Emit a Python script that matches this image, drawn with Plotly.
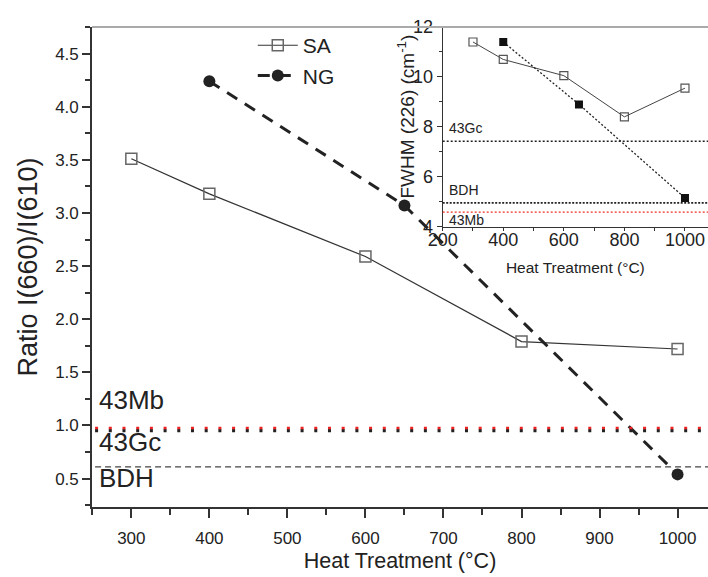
import plotly.graph_objects as go

# ---------------- data ----------------
# main plot: Ratio I(660)/I(610) vs heat treatment
sa_x = [300, 400, 600, 800, 1000]
sa_y = [3.51, 3.18, 2.59, 1.79, 1.72]
ng_x = [400, 650, 1000]
ng_y = [4.24, 3.07, 0.54]

# reference levels (main)
ref_names = ["43Mb", "43Gc", "BDH"]
ref_main = [0.975, 0.95, 0.61]
ref_main_label_y = [1.24, 0.845, 0.505]

# inset: FWHM (226) vs heat treatment
in_sa_x = [300, 400, 600, 800, 1000]
in_sa_y = [11.4, 10.7, 10.05, 8.4, 9.55]
in_ng_x = [400, 650, 1000]
in_ng_y = [11.4, 8.9, 5.15]

# reference levels (inset): 43Gc, BDH, 43Mb
in_ref_names = ["43Gc", "BDH", "43Mb"]
in_ref = [7.42, 4.95, 4.58]
in_ref_label_y = [7.95, 5.47, 4.27]

FONT = "Liberation Sans, Arial, sans-serif"
TXT = "#222222"

fig = go.Figure()

# main traces
fig.add_trace(go.Scatter(
    x=sa_x, y=sa_y, name="SA", mode="lines+markers",
    line=dict(color="#333333", width=1.2),
    marker=dict(symbol="square-open", size=11, color="#666666", line=dict(width=1.5)),
))
fig.add_trace(go.Scatter(
    x=ng_x, y=ng_y, name="NG", mode="lines+markers",
    line=dict(color="#222222", width=3, dash="12px,9px"),
    marker=dict(symbol="circle", size=12, color="#222222"),
))

# inset traces
fig.add_trace(go.Scatter(
    x=in_sa_x, y=in_sa_y, xaxis="x2", yaxis="y2", mode="lines+markers", showlegend=False,
    line=dict(color="#444444", width=1),
    marker=dict(symbol="square-open", size=8, color="#555555", line=dict(width=1.2)),
))
fig.add_trace(go.Scatter(
    x=in_ng_x, y=in_ng_y, xaxis="x2", yaxis="y2", mode="lines+markers", showlegend=False,
    line=dict(color="#222222", width=1.3, dash="2px,2px"),
    marker=dict(symbol="square", size=8, color="#111111"),
))

shapes = []
annotations = []

# main reference lines
main_styles = [
    dict(color="#ee2222", width=3, dash="3px,10.7px"),
    dict(color="#222222", width=3, dash="3px,10.7px"),
    dict(color="#444444", width=1.3, dash="6px,4px"),
]
for name, yv, ly, st in zip(ref_names, ref_main, ref_main_label_y, main_styles):
    shapes.append(dict(type="line", xref="x domain", yref="y", x0=0.005, x1=1, y0=yv, y1=yv,
                       line=st, layer="above"))
    annotations.append(dict(text=name, xref="x domain", yref="y", x=0.008, y=ly,
                            xanchor="left", yanchor="middle", showarrow=False,
                            font=dict(size=26, color=TXT, family=FONT)))

# inset reference lines
in_styles = [
    dict(color="#222222", width=1.5, dash="2px,2px"),
    dict(color="#222222", width=1.8, dash="2px,1.5px"),
    dict(color="#ee3322", width=1.2, dash="2px,2px"),
]
for name, yv, ly, st in zip(in_ref_names, in_ref, in_ref_label_y, in_styles):
    shapes.append(dict(type="line", xref="x2 domain", yref="y2", x0=0, x1=1, y0=yv, y1=yv,
                       line=st))
    annotations.append(dict(text=name, xref="x2 domain", yref="y2", x=0.015, y=ly,
                            xanchor="left", yanchor="middle", showarrow=False,
                            font=dict(size=14, color=TXT, family=FONT)))

# inset y-axis title (placed as rotated annotation)
annotations.append(dict(text="FWHM (226) (cm<sup>-1</sup>)", xref="paper", yref="paper",
                        x=0.5097, y=0.8135, xanchor="center", yanchor="middle",
                        textangle=-90, showarrow=False,
                        font=dict(size=19, color=TXT, family=FONT)))

# top gray border
shapes.append(dict(type="line", xref="paper", yref="paper", x0=0, x1=1, y0=1, y1=1,
                   line=dict(color="#aaaaaa", width=2)))

axis_common = dict(showgrid=False, zeroline=False, showline=True, linecolor="#333333",
                   ticks="outside", tickcolor="#333333", tickfont=dict(family=FONT, color=TXT))

fig.update_layout(
    width=708, height=577,
    margin=dict(l=92, r=0, t=27, b=70),
    paper_bgcolor="white", plot_bgcolor="rgba(0,0,0,0)",
    font=dict(family=FONT, color=TXT),
    showlegend=True,
    legend=dict(x=0.261, y=1.004, xanchor="left", yanchor="top", bgcolor="rgba(0,0,0,0)",
                font=dict(size=21, family=FONT, color=TXT), tracegroupgap=0, itemwidth=40),
    xaxis=dict(**axis_common, range=[249.6, 1039.0], tickvals=[300, 400, 500, 600, 700, 800, 900, 1000],
               ticklen=9, tickwidth=1.5, linewidth=1.6, ticklabelstandoff=6,
               minor=dict(ticks="outside", dtick=50, tick0=250, ticklen=6, tickcolor="#333333", tickwidth=1.5),
               title=dict(text="Heat Treatment (°C)", font=dict(size=21.5, family=FONT, color=TXT), standoff=6),
               tickfont_size=17, domain=[0, 1]),
    yaxis=dict(**axis_common, range=[0.233, 4.75], tickvals=[0.5, 1.0, 1.5, 2.0, 2.5, 3.0, 3.5, 4.0, 4.5],
               ticktext=["0.5", "1.0", "1.5", "2.0", "2.5", "3.0", "3.5", "4.0", "4.5"],
               ticklen=8, tickwidth=1.5, linewidth=1.6,
               minor=dict(ticks="outside", dtick=0.25, tick0=0.25, ticklen=5, tickcolor="#333333", tickwidth=1.5),
               title=dict(text="Ratio I(660)/I(610)", font=dict(size=27, family=FONT, color=TXT), standoff=10),
               tickfont_size=17, domain=[0, 1]),
    xaxis2=dict(**axis_common, anchor="y2", domain=[0.5693, 1], range=[200, 1076],
                tickvals=[200, 400, 600, 800, 1000], ticklen=3, tickwidth=1, linewidth=1.3,
                ticklabelstandoff=-6,
                minor=dict(ticks="outside", dtick=100, tick0=200, ticklen=3, tickcolor="#333333"),
                title=dict(text="Heat Treatment (°C)", font=dict(size=15.5, family=FONT, color=TXT), standoff=12),
                tickfont_size=18),
    yaxis2=dict(**axis_common, anchor="x2", domain=[0.584, 1], range=[4, 12],
                tickvals=[4, 6, 8, 10, 12], ticklen=5, tickwidth=1, linewidth=1.3,
                minor=dict(ticks="outside", dtick=1, tick0=4, ticklen=3, tickcolor="#333333"),
                tickfont_size=18),
    shapes=shapes,
    annotations=annotations,
)

fig.write_html("out.html")
